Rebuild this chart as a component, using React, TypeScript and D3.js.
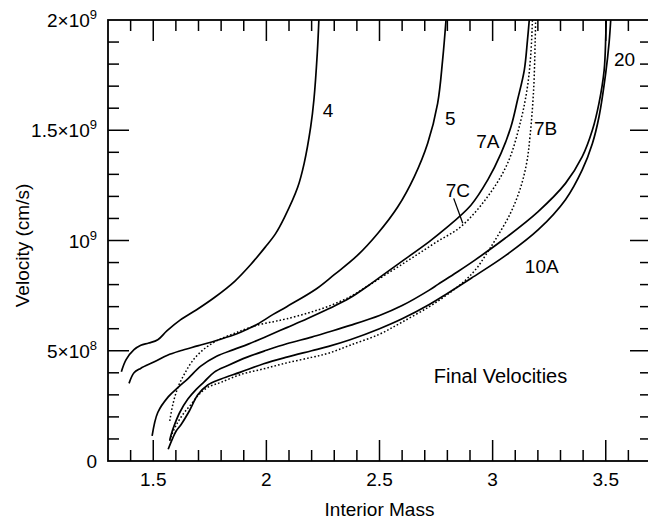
import React from "react";
import * as d3 from "d3";

// Interior mass (x) and final velocity in units of 1e8 cm/s (y)
const mass4 = [1.359, 1.38, 1.415, 1.445, 1.48, 1.52, 1.56, 1.62, 1.69, 1.775, 1.86, 1.93, 1.995, 2.04, 2.08, 2.138, 2.167, 2.196, 2.21, 2.225, 2.232];
const vel4 = [4.05, 4.6, 5.05, 5.25, 5.35, 5.5, 5.9, 6.4, 6.85, 7.45, 8.15, 8.9, 9.7, 10.3, 11.05, 12.4, 13.5, 15.16, 16.37, 18.49, 20];

const mass5 = [1.393, 1.415, 1.444, 1.505, 1.563, 1.62, 1.7, 1.79, 1.87, 1.92, 1.96, 2.03, 2.09, 2.22, 2.3, 2.4, 2.493, 2.581, 2.654, 2.713, 2.757, 2.779, 2.794];
const vel5 = [3.52, 4.0, 4.2, 4.5, 4.8, 5.0, 5.23, 5.5, 5.77, 6.0, 6.2, 6.65, 7.0, 7.8, 8.45, 9.3, 10.33, 11.53, 12.9, 14.41, 16.22, 18.19, 20];

const mass7A = [1.495, 1.52, 1.567, 1.61, 1.655, 1.71, 1.78, 1.855, 1.92, 2.0, 2.09, 2.18, 2.275, 2.37, 2.45, 2.571, 2.72, 2.787, 2.904, 2.978, 3.037, 3.081, 3.11, 3.14, 3.154, 3.162];
const vel7A = [1.14, 2.2, 2.92, 3.34, 3.75, 4.3, 4.75, 5.05, 5.3, 5.65, 6.05, 6.45, 6.9, 7.4, 7.95, 8.85, 9.95, 10.5, 11.6, 12.74, 13.95, 15.16, 16.37, 17.73, 19.09, 20];

const mass7B = [1.573, 1.58, 1.6, 1.63, 1.668, 1.704, 1.741, 1.8, 1.886, 1.988, 2.09, 2.2, 2.275, 2.37, 2.5, 2.6, 2.72, 2.8, 2.88, 2.93, 2.97, 3.01, 3.077, 3.122, 3.151, 3.166, 3.181, 3.188, 3.19];
const vel7B = [0.91, 1.14, 1.6, 2.1, 2.58, 3.04, 3.34, 3.57, 3.92, 4.18, 4.45, 4.7, 4.89, 5.25, 5.75, 6.3, 7.0, 7.55, 8.2, 8.75, 9.35, 10.0, 11.2, 12.35, 13.55, 14.8, 16.8, 19.0, 20];

const mass7C = [1.573, 1.587, 1.609, 1.638, 1.675, 1.726, 1.784, 1.857, 1.886, 1.959, 2.032, 2.09, 2.18, 2.275, 2.37, 2.45, 2.55, 2.65, 2.75, 2.86, 2.978, 3.066, 3.125, 3.154, 3.169, 3.176];
const vel7C = [1.82, 2.58, 3.34, 3.95, 4.56, 5.09, 5.47, 5.78, 5.9, 6.16, 6.32, 6.45, 6.7, 7.02, 7.45, 7.95, 8.6, 9.25, 9.92, 10.63, 11.99, 13.5, 15.46, 16.98, 18.49, 20];

const mass10A = [1.566, 1.587, 1.602, 1.624, 1.66, 1.697, 1.741, 1.8, 1.886, 1.988, 2.09, 2.2, 2.275, 2.37, 2.5, 2.6, 2.72, 2.8, 2.907, 3.055, 3.203, 3.322, 3.396, 3.441, 3.47, 3.5, 3.515, 3.522];
const vel10A = [0.53, 1.06, 1.37, 1.67, 2.28, 3.0, 3.45, 3.72, 4.03, 4.41, 4.71, 5.0, 5.2, 5.5, 6.0, 6.45, 7.1, 7.6, 8.3, 9.3, 10.5, 11.85, 13.2, 14.4, 15.6, 17.6, 19.0, 20];

const mass20 = [1.573, 1.58, 1.595, 1.617, 1.653, 1.69, 1.726, 1.77, 1.83, 1.915, 2.0, 2.09, 2.2, 2.275, 2.37, 2.5, 2.6, 2.72, 2.76, 2.84, 2.92, 3.055, 3.2, 3.322, 3.396, 3.441, 3.47, 3.493, 3.5, 3.502];
const vel20 = [0.95, 1.22, 1.67, 2.2, 2.81, 3.25, 3.6, 4.03, 4.33, 4.71, 5.02, 5.32, 5.62, 5.85, 6.15, 6.6, 7.05, 7.75, 8.02, 8.55, 9.1, 10.1, 11.3, 12.59, 13.8, 15.01, 16.22, 17.73, 19.24, 20];

const seriesNames = ["4", "5", "7A", "7B", "7C", "10A", "20"];
const seriesMass = [mass4, mass5, mass7A, mass7B, mass7C, mass10A, mass20];
const seriesVel = [vel4, vel5, vel7A, vel7B, vel7C, vel10A, vel20];
const seriesDotted = [false, false, false, true, true, false, false];

// curve labels (data coordinates)
const labelText = ["4", "5", "7A", "7B", "7C", "10A", "20"];
const labelMass = [2.272, 2.813, 2.979, 3.234, 2.846, 3.217, 3.583];
const labelVel = [15.9, 15.54, 14.5, 15.09, 12.26, 8.81, 18.19];
const leader7CMass = [2.828, 2.868];
const leader7CVel = [11.91, 10.78];

const xTickValues = [1.5, 2, 2.5, 3, 3.5];
const xTickLabels = ["1.5", "2", "2.5", "3", "3.5"];
const yTickValues = [0, 5, 10, 15, 20];
const yTickMantissa = ["0", "5×10", "10", "1.5×10", "2×10"];
const yTickExponent = ["", "8", "9", "9", "9"];

const FONT = "'Liberation Sans', Arial, Helvetica, sans-serif";

export default function App() {
  const W = 648, H = 520;
  const x = d3.scaleLinear().domain([1.3, 3.7]).range([108, 651]);
  const y = d3.scaleLinear().domain([0, 20]).range([461, 20]);
  const [x0, x1] = x.range();
  const [yb, yt] = y.range();

  const line = d3
    .line<[number, number]>()
    .x((d) => x(d[0]))
    .y((d) => y(d[1]))
    .curve(d3.curveCatmullRom.alpha(0.5));

  const xMinor = d3.range(14, 37).map((v) => v / 10);
  const yMinor = d3.range(1, 20);
  const isMajorX = (v: number) => Math.abs(v * 2 - Math.round(v * 2)) < 1e-6;
  const MAJ = 21, MIN = 11;

  return (
    <svg width={W} height={H} style={{ position: "absolute", left: 0, top: 0, background: "#fff" }} fontFamily={FONT}>
      <defs>
        <clipPath id="plot">
          <rect x={x0} y={yt} width={x1 - x0} height={yb - yt} />
        </clipPath>
      </defs>
      <rect x={0} y={0} width={W} height={H} fill="#fff" />
      {/* ticks */}
      {xMinor.map((v, i) => {
        const len = isMajorX(v) ? MAJ : MIN;
        return (
          <g key={"xt" + i} stroke="#000" strokeWidth={1.5}>
            <line x1={x(v)} x2={x(v)} y1={yb} y2={yb - len} />
            <line x1={x(v)} x2={x(v)} y1={yt} y2={yt + len} />
          </g>
        );
      })}
      {yMinor.map((v, i) => {
        const len = v % 5 === 0 ? MAJ : MIN;
        return (
          <g key={"yt" + i} stroke="#000" strokeWidth={1.5}>
            <line x1={x0} x2={x0 + len} y1={y(v)} y2={y(v)} />
            <line x1={x1} x2={x1 - len} y1={y(v)} y2={y(v)} />
          </g>
        );
      })}
      <rect x={x0} y={yt} width={x1 - x0} height={yb - yt} fill="none" stroke="#000" strokeWidth={1.8} />

      {/* curves */}
      <g clipPath="url(#plot)" fill="none" stroke="#000">
        {seriesNames.map((name, i) => {
          const pts = seriesMass[i].map((m, j) => [m, seriesVel[i][j]] as [number, number]);
          return (
            <path
              key={name}
              d={line(pts) || ""}
              strokeWidth={seriesDotted[i] ? 1.5 : 1.7}
              strokeDasharray={seriesDotted[i] ? "1.6 2.1" : undefined}
              strokeLinejoin="round"
            />
          );
        })}
        <line
          x1={x(leader7CMass[0])}
          y1={y(leader7CVel[0])}
          x2={x(leader7CMass[1])}
          y2={y(leader7CVel[1])}
          strokeWidth={1.3}
        />
      </g>

      {/* labels */}
      {labelText.map((t, i) => (
        <text key={"lb" + i} x={x(labelMass[i])} y={y(labelVel[i])} fontSize={19} textAnchor="middle" dominantBaseline="central">
          {t}
        </text>
      ))}
      <text x={x(3.035)} y={y(3.54)} fontSize={20} textAnchor="middle">
        Final Velocities
      </text>

      {/* x tick labels */}
      {xTickValues.map((v, i) => (
        <text key={"xl" + i} x={x(v)} y={486} fontSize={19} textAnchor="middle">
          {xTickLabels[i]}
        </text>
      ))}
      {/* y tick labels */}
      {yTickValues.map((v, i) => (
        <text key={"yl" + i} x={97} y={y(v) + 7} fontSize={19} textAnchor="end">
          {yTickMantissa[i]}
          {yTickExponent[i] ? (
            <tspan fontSize={13} dy={-8}>
              {yTickExponent[i]}
            </tspan>
          ) : null}
        </text>
      ))}
      <text x={(x0 + x1) / 2} y={516} fontSize={19} textAnchor="middle">
        Interior Mass
      </text>
      <text transform={`translate(29, ${(yt + yb) / 2 + 5}) rotate(-90)`} fontSize={19} textAnchor="middle">
        Velocity (cm/s)
      </text>
    </svg>
  );
}
